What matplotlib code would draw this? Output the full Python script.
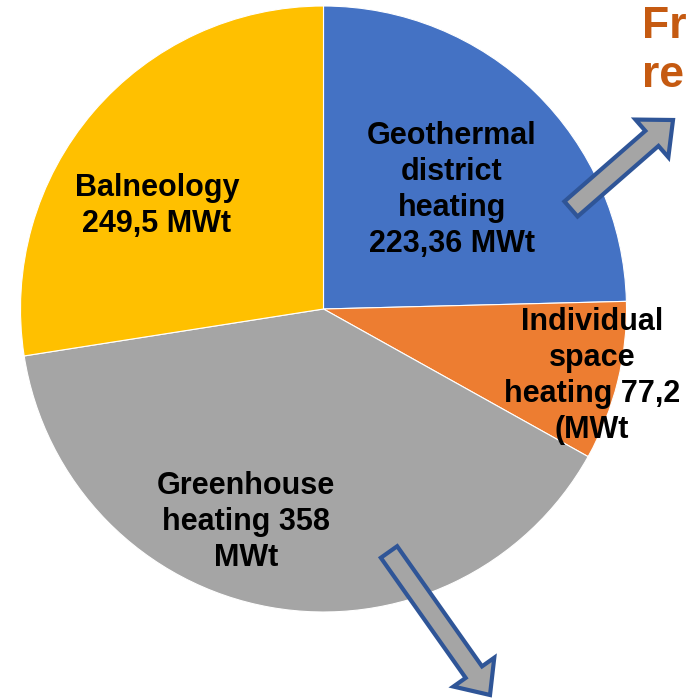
import matplotlib.pyplot as plt
from matplotlib.patches import FancyArrow

# данные
labels = ['Geothermal\ndistrict\nheating\n223,36 MWt',
          'Individual\nspace\nheating 77,2\n(MWt',
          'Greenhouse\nheating 358\nMWt',
          'Balneology\n249,5 MWt']
values = [223.36, 77.2, 358, 249.5]
colors = ['#4472C4', '#ED7D31', '#A5A5A5', '#FFC000']

# позиции подписей (пиксели, от верхнего левого угла)
label_pos = [(452, 190), (592, 376), (246, 522), (157, 206)]

W, H = 687, 698
fig = plt.figure(figsize=(W / 100, H / 100), dpi=100)
ax = fig.add_axes([0, 0, 1, 1])

ax.pie(values, colors=colors, startangle=90, counterclock=False,
       center=(323.5, H - 309), radius=303,
       wedgeprops=dict(edgecolor='white', linewidth=0.8))

for lab, (px, py) in zip(labels, label_pos):
    ax.text(px, H - py, lab, ha='center', va='center', fontsize=22,
            fontweight='bold', family='Liberation Sans', color='black',
            linespacing=1.26)

# стрелки
def block_arrow(x0, y0, x1, y1):
    a = FancyArrow(x0, H - y0, x1 - x0, -(y1 - y0), width=20, head_width=50,
                   head_length=28, length_includes_head=True,
                   facecolor='#A5A5A5', edgecolor='#2F5597', linewidth=3,
                   joinstyle='miter', zorder=5)
    ax.add_patch(a)

block_arrow(571, 209, 673, 120)
block_arrow(389, 552, 490, 695)

ax.text(642, H - 51, 'Fr\nre', ha='left', va='center', fontsize=32,
        fontweight='bold', family='Liberation Sans', color='#C55A11',
        linespacing=1.25)

ax.set_xlim(0, W)
ax.set_ylim(0, H)
ax.set_aspect('equal', adjustable='box')
ax.axis('off')

fig.savefig('out.png', dpi=100)
